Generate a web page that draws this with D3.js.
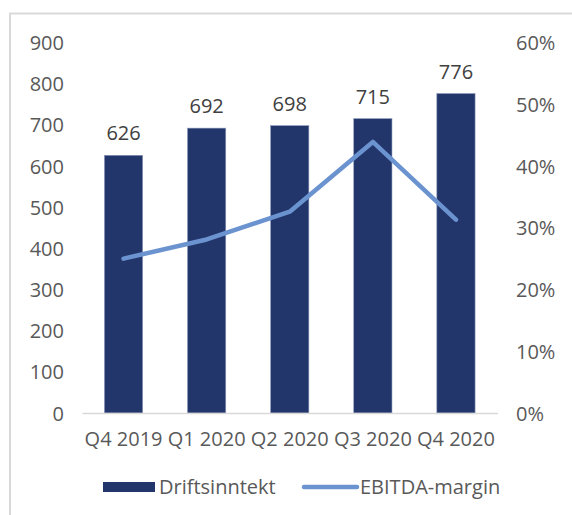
<!DOCTYPE html>
<html>
<head>
<meta charset="utf-8">
<script src="https://cdn.jsdelivr.net/npm/d3@7"></script>
<style>
  html, body { margin: 0; padding: 0; background: #fff; }
  svg { display: block; }
  text { font-family: "Open Sans", "Noto Sans", sans-serif; }
</style>
</head>
<body>
<script>
const categories = ["Q4 2019", "Q1 2020", "Q2 2020", "Q3 2020", "Q4 2020"];
const revenue = [626, 692, 698, 715, 776];
const ebitdaMargin = [0.25, 0.281, 0.326, 0.439, 0.313];
const leftTicks = [0, 100, 200, 300, 400, 500, 600, 700, 800, 900];
const rightTicks = [0, 0.1, 0.2, 0.3, 0.4, 0.5, 0.6];
const seriesNames = ["Driftsinntekt", "EBITDA-margin"];

const W = 572, H = 515;
const svg = d3.select("body").append("svg").attr("width", W).attr("height", H);

// outer frame
svg.append("path")
  .attr("d", `M10,${H} L10,13.5 L${W},13.5`)
  .attr("fill", "none").attr("stroke", "#d9d9d9").attr("stroke-width", 2);

const x = d3.scaleBand().domain(categories).range([82, 497.5]).paddingInner(0.54).paddingOuter(0.27);
const yL = d3.scaleLinear().domain([0, 900]).range([413, 42.5]);
const yR = d3.scaleLinear().domain([0, 0.6]).range([413, 42.5]);

const barColor = "#22366b";
const lineColor = "#6b93cf";
const textColor = "#595959";

// left axis
const axL = d3.axisLeft(yL).tickValues(leftTicks).tickSize(0).tickPadding(0).tickFormat(d3.format("d"));
const gL = svg.append("g").attr("transform", "translate(64,0)").call(axL);
gL.select(".domain").remove();
gL.selectAll("text").attr("fill", textColor).attr("font-size", 20).attr("dy", "0.35em");

// right axis
const axR = d3.axisRight(yR).tickValues(rightTicks).tickSize(0).tickPadding(0).tickFormat(d3.format(".0%"));
const gR = svg.append("g").attr("transform", "translate(516,0)").call(axR);
gR.select(".domain").remove();
gR.selectAll("text").attr("fill", textColor).attr("font-size", 20).attr("dy", "0.35em");

// bars
svg.append("g").selectAll("rect").data(revenue).join("rect")
  .attr("x", (d, i) => x(categories[i]))
  .attr("width", x.bandwidth())
  .attr("y", d => yL(d))
  .attr("height", d => yL(0) - yL(d))
  .attr("fill", barColor)
  .attr("stroke", "#8a97b8").attr("stroke-width", 0.6);

// bar labels
svg.append("g").selectAll("text").data(revenue).join("text")
  .attr("x", (d, i) => x(categories[i]) + x.bandwidth() / 2)
  .attr("y", d => yL(d) - 15)
  .attr("text-anchor", "middle")
  .attr("font-size", 20)
  .attr("fill", "#404040")
  .text(d => d);

// x axis
const axB = d3.axisBottom(x).tickSize(0).tickPadding(0);
const gB = svg.append("g").attr("transform", `translate(0,${yL(0)})`).call(axB);
gB.select(".domain").attr("stroke", "#d9d9d9").attr("stroke-width", 1.5);
gB.selectAll("text").attr("fill", textColor).attr("font-size", 20).attr("dy", 0).attr("y", 33);

// line
const line = d3.line()
  .x((d, i) => x(categories[i]) + x.bandwidth() / 2)
  .y(d => yR(d));
svg.append("path").datum(ebitdaMargin)
  .attr("d", line)
  .attr("fill", "none")
  .attr("stroke", lineColor)
  .attr("stroke-width", 4.5)
  .attr("stroke-linecap", "round")
  .attr("stroke-linejoin", "round");

// legend
const lg = svg.append("g");
lg.append("rect").attr("x", 103).attr("y", 482).attr("width", 52).attr("height", 10).attr("fill", barColor);
lg.append("text").attr("x", 159).attr("y", 494).attr("font-size", 20).attr("fill", textColor).text(seriesNames[0]);
lg.append("line").attr("x1", 304).attr("x2", 357).attr("y1", 487).attr("y2", 487)
  .attr("stroke", lineColor).attr("stroke-width", 4.5).attr("stroke-linecap", "round");
lg.append("text").attr("x", 360).attr("y", 494).attr("font-size", 20).attr("fill", textColor).text(seriesNames[1]);
</script>
</body>
</html>
